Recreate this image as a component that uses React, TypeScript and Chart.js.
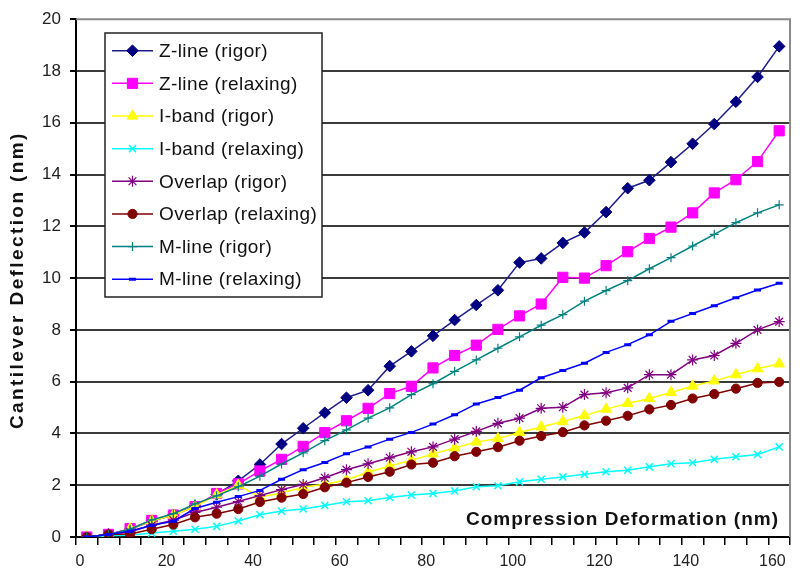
import React, { useEffect, useRef } from 'react';
import { Chart, registerables } from 'chart.js';
import { drawPoint } from 'chart.js/helpers';

Chart.register(...registerables);

// Compression deformation (nm) of each measurement
const deformation = [
  2.5, 7.5, 12.5, 17.5, 22.5, 27.5, 32.5, 37.5, 42.5, 47.5, 52.5,
  57.5, 62.5, 67.5, 72.5, 77.5, 82.5, 87.5, 92.5, 97.5, 102.5,
  107.5, 112.5, 117.5, 122.5, 127.5, 132.5, 137.5, 142.5, 147.5, 152.5,
  157.5, 162.5,
];

// Cantilever deflection (nm)
const zLineRigor = [
  0, 0.1, 0.3, 0.62, 0.85, 1.2, 1.65, 2.17, 2.8, 3.59, 4.2,
  4.8, 5.38, 5.67, 6.6, 7.17, 7.77, 8.38, 8.96, 9.53, 10.6,
  10.76, 11.36, 11.76, 12.55, 13.47, 13.78, 14.48, 15.19, 15.95, 16.81,
  17.77, 18.95,
];
const zLineRelaxing = [
  0, 0.1, 0.32, 0.64, 0.85, 1.17, 1.68, 2.05, 2.55, 3.0, 3.5,
  4.03, 4.49, 4.97, 5.54, 5.82, 6.53, 7.01, 7.41, 8.02, 8.54,
  9.0, 10.03, 10.0, 10.48, 11.02, 11.53, 11.97, 12.52, 13.29, 13.8,
  14.5, 15.69,
];
const iBandRigor = [
  0, 0.05, 0.32, 0.62, 0.85, 1.17, 1.63, 2.0, 1.55, 1.7, 1.92,
  2.04, 2.2, 2.5, 2.74, 2.96, 3.21, 3.44, 3.67, 3.8, 4.04,
  4.25, 4.46, 4.69, 4.94, 5.16, 5.35, 5.58, 5.83, 6.03, 6.27,
  6.5, 6.69,
];
const iBandRelaxing = [
  0, 0.05, 0.07, 0.15, 0.22, 0.3, 0.41, 0.62, 0.86, 1.0, 1.08,
  1.22, 1.36, 1.4, 1.53, 1.62, 1.68, 1.78, 1.94, 1.98, 2.13,
  2.23, 2.32, 2.42, 2.52, 2.58, 2.71, 2.83, 2.87, 3.0, 3.1,
  3.19, 3.48,
];
const overlapRigor = [
  0, 0.1, 0.2, 0.45, 0.65, 0.95, 1.15, 1.37, 1.6, 1.83, 2.03,
  2.29, 2.6, 2.83, 3.06, 3.29, 3.48, 3.78, 4.08, 4.39, 4.59,
  4.97, 5.01, 5.5, 5.57, 5.76, 6.27, 6.27, 6.84, 7.01, 7.48,
  8.0, 8.32,
];
const overlapRelaxing = [
  0, 0.1, 0.12, 0.3, 0.48, 0.76, 0.9, 1.08, 1.35, 1.52, 1.66,
  1.92, 2.1, 2.32, 2.52, 2.8, 2.87, 3.12, 3.29, 3.47, 3.72,
  3.9, 4.05, 4.31, 4.49, 4.68, 4.93, 5.1, 5.35, 5.52, 5.73,
  5.95, 5.99,
];
const mLineRigor = [
  0, 0.1, 0.3, 0.66, 0.9, 1.28, 1.59, 1.94, 2.35, 2.82, 3.25,
  3.72, 4.14, 4.59, 4.99, 5.5, 5.92, 6.4, 6.84, 7.29, 7.73,
  8.18, 8.59, 9.11, 9.52, 9.9, 10.36, 10.79, 11.24, 11.69, 12.14,
  12.52, 12.83,
];
const mLineRelaxing = [
  0, 0.1, 0.22, 0.45, 0.61, 1.1, 1.34, 1.56, 1.8, 2.23, 2.6,
  2.88, 3.22, 3.48, 3.78, 4.04, 4.36, 4.72, 5.14, 5.39, 5.67,
  6.15, 6.43, 6.71, 7.13, 7.43, 7.81, 8.33, 8.63, 8.93, 9.24,
  9.54, 9.8,
];

const seriesNames = [
  'Z-line (rigor)', 'Z-line (relaxing)', 'I-band (rigor)', 'I-band (relaxing)',
  'Overlap (rigor)', 'Overlap (relaxing)', 'M-line (rigor)', 'M-line (relaxing)',
];
const seriesValues = [
  zLineRigor, zLineRelaxing, iBandRigor, iBandRelaxing,
  overlapRigor, overlapRelaxing, mLineRigor, mLineRelaxing,
];
const xTickLabels = [0, 20, 40, 60, 80, 100, 120, 140, 160];
const yTickLabels = [0, 2, 4, 6, 8, 10, 12, 14, 16, 18, 20];
const xTitle = 'Compression Deformation (nm)';
const yTitle = 'Cantilever Deflection (nm)';

const styles = [
  { color: '#000080', line: '#1c1c88', pointStyle: 'rectRot', radius: 5.8, bw: 1 },
  { color: '#FF00FF', line: '#FF00FF', pointStyle: 'rect', radius: 7.2, bw: 1 },
  { color: '#FFFF00', line: '#FFFF00', pointStyle: 'triangle', radius: 6.2, bw: 1 },
  { color: '#00FFFF', line: '#00FFFF', pointStyle: 'crossRot', radius: 5, bw: 1.5 },
  { color: '#800080', line: '#800080', pointStyle: 'star', radius: 5.5, bw: 1.2 },
  { color: '#800000', line: '#800000', pointStyle: 'circle', radius: 4.6, bw: 1 },
  { color: '#008080', line: '#008080', pointStyle: 'cross', radius: 4.5, bw: 1.2 },
  { color: '#0000FF', line: '#0000FF', pointStyle: 'line', radius: 3.5, bw: 3 },
];

const FONT = '"Liberation Sans", Arial, sans-serif';

const overlayPlugin = {
  id: 'overlay',
  beforeDatasetsDraw(chart: any) {
    const { ctx, chartArea: ca } = chart;
    ctx.save();
    ctx.strokeStyle = '#8a8a8a';
    ctx.lineWidth = 2;
    ctx.beginPath();
    ctx.moveTo(ca.left, ca.top);
    ctx.lineTo(ca.right, ca.top);
    ctx.lineTo(ca.right, ca.bottom);
    ctx.stroke();
    ctx.restore();
  },
  afterDraw(chart: any) {
    const { ctx, chartArea: ca } = chart;
    ctx.save();
    // x axis title inside plot
    ctx.font = `bold 19px ${FONT}`;
    (ctx as any).letterSpacing = '1px';
    ctx.fillStyle = '#111';
    ctx.textAlign = 'right';
    ctx.textBaseline = 'middle';
    ctx.fillText(xTitle, ca.right - 11, ca.bottom - 17);
    // y axis title
    ctx.save();
    ctx.translate(18, (ca.top + ca.bottom) / 2 + 2);
    ctx.rotate(-Math.PI / 2);
    ctx.textAlign = 'center';
    (ctx as any).letterSpacing = '2.4px';
    ctx.font = `bold 19px ${FONT}`;
    ctx.fillText(yTitle, 0, 0);
    ctx.restore();
    (ctx as any).letterSpacing = '0px';

    // legend box
    const bx = 105, by = 33, bw = 217, bh = 264;
    ctx.fillStyle = '#ffffff';
    ctx.fillRect(bx, by, bw, bh);
    ctx.strokeStyle = '#222';
    ctx.lineWidth = 1.5;
    ctx.strokeRect(bx, by, bw, bh);
    ctx.font = `19px ${FONT}`;
    ctx.textAlign = 'left';
    ctx.textBaseline = 'middle';
    (ctx as any).letterSpacing = '0.4px';
    seriesNames.forEach((name, i) => {
      const s = styles[i];
      const y = by + 17.7 + i * 32.65;
      ctx.strokeStyle = s.line;
      ctx.lineWidth = 1.5;
      ctx.beginPath();
      ctx.moveTo(112, y);
      ctx.lineTo(153, y);
      ctx.stroke();
      ctx.fillStyle = s.color;
      ctx.strokeStyle = s.color;
      ctx.lineWidth = s.bw;
      drawPoint(ctx, { pointStyle: s.pointStyle as any, radius: s.radius, rotation: 0, borderWidth: s.bw }, 132.5, y);
      ctx.fillStyle = '#111';
      ctx.fillText(name, 159, y + 1);
    });
    ctx.restore();
  },
};

export default function App() {
  const canvasRef = useRef<HTMLCanvasElement | null>(null);

  useEffect(() => {
    document.body.style.margin = '0';
    const canvas = canvasRef.current;
    if (!canvas) return;
    const datasets = seriesNames.map((name, i) => {
      const s = styles[i];
      return {
        label: name,
        data: deformation.map((x, j) => ({ x, y: seriesValues[i][j] })),
        borderColor: s.line,
        backgroundColor: s.color,
        borderWidth: 1.5,
        pointStyle: s.pointStyle,
        pointRadius: s.radius,
        pointBackgroundColor: s.color,
        pointBorderColor: s.color,
        pointBorderWidth: s.bw,
        tension: 0,
        order: 8 - i,
      };
    });
    const chart = new Chart(canvas, {
      type: 'line',
      data: { datasets },
      options: {
        animation: false,
        responsive: false,
        maintainAspectRatio: false,
        layout: { padding: { top: 13, right: 10, left: 0, bottom: 0 } },
        plugins: { legend: { display: false }, tooltip: { enabled: false } },
        scales: {
          x: {
            type: 'linear',
            min: 0,
            max: 165,
            afterFit: (s: any) => { s.height = 42; },
            border: { display: true, color: '#000', width: 2 },
            grid: { drawOnChartArea: false, drawTicks: true, tickLength: 8, color: '#000', lineWidth: 1.5 },
            ticks: {
              stepSize: 5,
              autoSkip: false,
              includeBounds: false,
              maxRotation: 0,
              minRotation: 0,
              padding: 7,
              labelOffset: 4,
              color: '#222',
              font: { family: FONT, size: 16 },
              callback: (v: any) => {
                const n = Number(v);
                return xTickLabels.some((t) => Math.abs(t - n) < 1e-6) ? String(Math.round(n)) : '';
              },
            },
          },
          y: {
            type: 'linear',
            min: yTickLabels[0],
            max: yTickLabels[yTickLabels.length - 1],
            afterFit: (s: any) => { s.width = 76; },
            border: { display: true, color: '#000', width: 2 },
            grid: {
              color: (c: any) => (c.tick && c.tick.value === 20 ? 'rgba(0,0,0,0)' : '#3a3a3a'),
              tickColor: '#000',
              lineWidth: 2,
              tickLength: 6,
            },
            ticks: {
              stepSize: 2,
              padding: 9,
              color: '#222',
              font: { family: FONT, size: 17 },
            },
          },
        },
      },
      plugins: [overlayPlugin],
    } as any);
    return () => chart.destroy();
  }, []);

  return (
    <div style={{ position: 'absolute', left: 0, top: 0, width: 800, height: 579, background: '#fff' }}>
      <canvas ref={canvasRef} width={800} height={579} style={{ width: 800, height: 579, display: 'block' }} />
    </div>
  );
}
